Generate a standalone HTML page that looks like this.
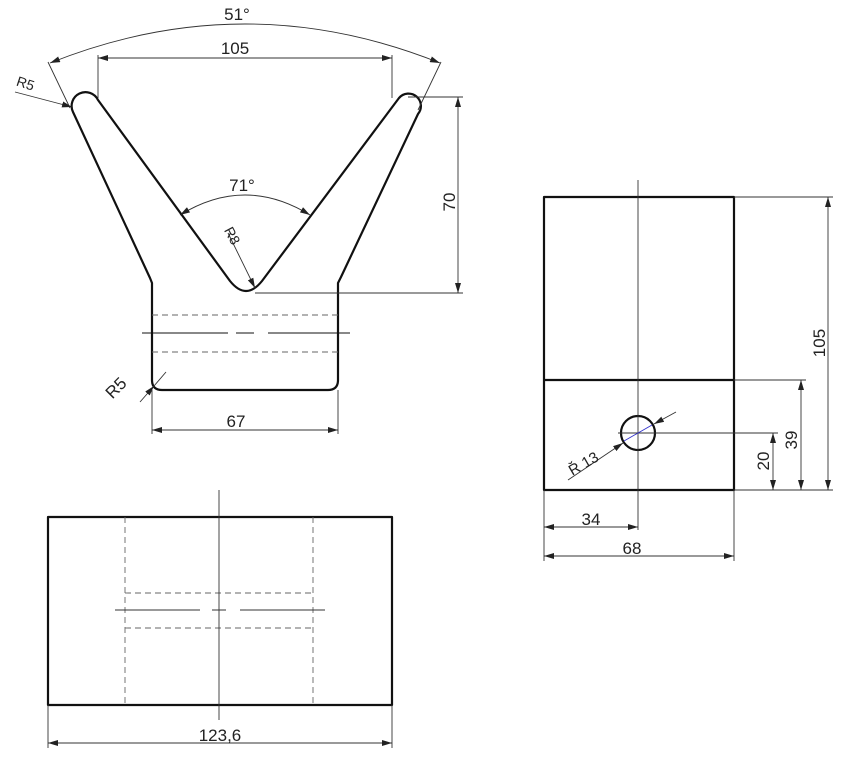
<!DOCTYPE html>
<html><head><style>body{margin:0;background:#fff}svg{display:block}text{font-family:"Liberation Sans",sans-serif;fill:#222}</style></head><body>
<svg width="850" height="766" viewBox="0 0 850 766" xmlns="http://www.w3.org/2000/svg">
<defs><marker id="a" viewBox="0 0 10 6" refX="10" refY="3" markerWidth="10" markerHeight="6" orient="auto-start-reverse" markerUnits="userSpaceOnUse"><path d="M0,0L10,3L0,6z" fill="#222"/></marker></defs>
<g fill="none" stroke="#111" stroke-width="2.2" stroke-linejoin="round">
<path d="M73,112 L150,278 L152,283 L152,380 Q152,390 162,390 L328,390 Q338,390 338,380 L338,283 L341,277 L418,114 A12 12 0 0 0 399,98 L262,281 Q246,301 230,281 L98,100 A12 12 0 0 0 73,112 Z"/>
<rect x="48" y="517" width="344" height="188"/>
<rect x="544" y="197" width="190" height="293"/>
<line x1="544" y1="380" x2="734" y2="380"/>
<circle cx="638" cy="433" r="17"/>
</g>
<g fill="none" stroke="#333" stroke-width="0.9">
<line x1="98" y1="58" x2="392" y2="58" marker-start="url(#a)" marker-end="url(#a)"/>
<line x1="98" y1="55" x2="98" y2="98"/><line x1="392" y1="55" x2="392" y2="98"/>
<path d="M50,63 Q245,-15 440,63" marker-start="url(#a)" marker-end="url(#a)"/>
<line x1="48" y1="62" x2="70" y2="108"/><line x1="441" y1="62" x2="418" y2="110"/>
<line x1="15" y1="92" x2="72" y2="107" marker-end="url(#a)"/>
<line x1="458" y1="97" x2="458" y2="293" marker-start="url(#a)" marker-end="url(#a)"/>
<line x1="408" y1="97" x2="463" y2="97"/><line x1="255" y1="293" x2="463" y2="293"/>
<path d="M180,215 Q245,175 310,215" marker-start="url(#a)" marker-end="url(#a)"/>
<line x1="228" y1="233" x2="255" y2="288" marker-end="url(#a)"/>
<line x1="152" y1="315" x2="338" y2="315" stroke-dasharray="6,4" stroke="#666"/>
<line x1="152" y1="352" x2="338" y2="352" stroke-dasharray="6,4" stroke="#666"/>
<path d="M142,333 H228 M236,333 H254 M268,333 H350" stroke="#111"/>
<line x1="140" y1="402" x2="154" y2="386" marker-end="url(#a)"/><line x1="154" y1="386" x2="166" y2="372"/>
<line x1="152" y1="430" x2="338" y2="430" marker-start="url(#a)" marker-end="url(#a)"/>
<line x1="152" y1="390" x2="152" y2="434"/><line x1="338" y1="390" x2="338" y2="434"/>
<line x1="125" y1="517" x2="125" y2="705" stroke-dasharray="6,4" stroke="#666"/>
<line x1="313" y1="517" x2="313" y2="705" stroke-dasharray="6,4" stroke="#666"/>
<line x1="125" y1="593" x2="313" y2="593" stroke-dasharray="6,4" stroke="#666"/>
<line x1="125" y1="628" x2="313" y2="628" stroke-dasharray="6,4" stroke="#666"/>
<line x1="219" y1="490" x2="219" y2="720"/>
<path d="M115,610 H200 M212,610 H226 M240,610 H325"/>
<line x1="48" y1="743" x2="392" y2="743" marker-start="url(#a)" marker-end="url(#a)"/>
<line x1="48" y1="705" x2="48" y2="748"/><line x1="392" y1="705" x2="392" y2="748"/>
<line x1="638" y1="180" x2="638" y2="530"/>
<line x1="618" y1="433" x2="658" y2="433"/>
<line x1="655" y1="433" x2="778" y2="433"/>
<line x1="828" y1="197" x2="828" y2="490" marker-start="url(#a)" marker-end="url(#a)"/>
<line x1="734" y1="197" x2="833" y2="197"/><line x1="734" y1="490" x2="833" y2="490"/>
<line x1="801" y1="380" x2="801" y2="490" marker-start="url(#a)" marker-end="url(#a)"/>
<line x1="734" y1="380" x2="806" y2="380"/>
<line x1="773" y1="433" x2="773" y2="490" marker-start="url(#a)" marker-end="url(#a)"/>
<line x1="544" y1="527" x2="638" y2="527" marker-start="url(#a)" marker-end="url(#a)"/>
<line x1="544" y1="556" x2="734" y2="556" marker-start="url(#a)" marker-end="url(#a)"/>
<line x1="544" y1="490" x2="544" y2="561"/><line x1="734" y1="490" x2="734" y2="561"/>
<line x1="568" y1="480" x2="623" y2="443" marker-end="url(#a)"/>
<line x1="676" y1="412" x2="654" y2="424" marker-end="url(#a)"/>
<line x1="624" y1="441" x2="652" y2="425" stroke="#33c"/>
</g>
<g font-size="17">
<text x="237" y="20" text-anchor="middle">51°</text>
<text x="235" y="54" text-anchor="middle">105</text>
<text x="242" y="191" text-anchor="middle">71°</text>
<text x="236" y="427" text-anchor="middle">67</text>
<text x="220" y="741" text-anchor="middle">123,6</text>
<text x="591" y="525" text-anchor="middle">34</text>
<text x="632" y="554" text-anchor="middle">68</text>
<text transform="translate(455,202) rotate(-90)" text-anchor="middle">70</text>
<text transform="translate(825,343) rotate(-90)" text-anchor="middle">105</text>
<text transform="translate(797,440) rotate(-90)" text-anchor="middle">39</text>
<text transform="translate(769,461) rotate(-90)" text-anchor="middle">20</text>
<text transform="translate(120,392) rotate(-45)" text-anchor="middle">R5</text>
<text transform="translate(586,468) rotate(-30)" text-anchor="middle" font-size="15">Ř 13</text>
<text transform="translate(24,88) rotate(18)" text-anchor="middle" font-size="14">R5</text>
<text transform="translate(228,238) rotate(62)" text-anchor="middle" font-size="14">R8</text>
</g>
</svg>
</body></html>
